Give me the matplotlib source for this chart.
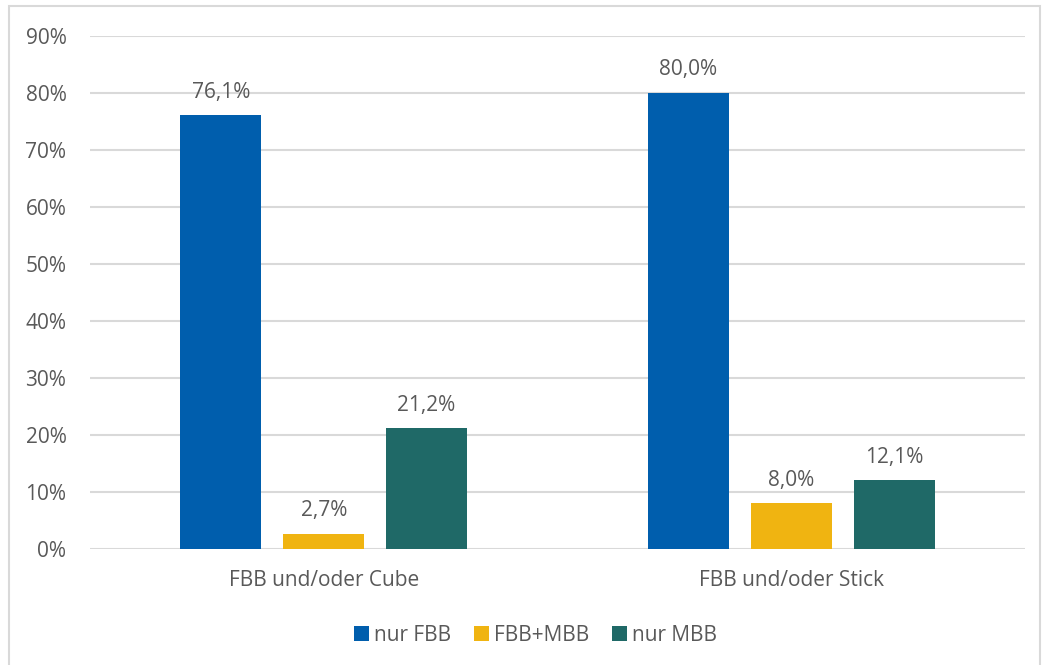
import matplotlib.pyplot as plt
import numpy as np
from matplotlib.patches import Rectangle

plt.rcParams['font.family'] = ['Open Sans', 'DejaVu Sans']

categories = ["FBB und/oder Cube", "FBB und/oder Stick"]
series = ["nur FBB", "FBB+MBB", "nur MBB"]
nur_fbb = [76.1, 80.0]
fbb_mbb = [2.7, 8.0]
nur_mbb = [21.2, 12.1]
colors = ['#005EAD', '#F0B411', '#1F6967']
text_color = '#595959'
fs = 15

fig = plt.figure(figsize=(10.42, 6.65), dpi=100)
ax = fig.add_axes([0.0864, 0.1744, 0.8973, 0.7715])

# light border round the whole chart
fig.patches.append(Rectangle((0.009, -0.01), 0.989, 1.001, transform=fig.transFigure,
                             fill=False, edgecolor='#d9d9d9', linewidth=1.5))

x = np.arange(len(categories))
width = 0.173
step = 0.22
for i, (vals, name) in enumerate(zip([nur_fbb, fbb_mbb, nur_mbb], series)):
    pos = x + (i - 1) * step
    ax.bar(pos, vals, width, color=colors[i], label=name, zorder=3)
    for p, v in zip(pos, vals):
        ax.annotate(f"{v:.1f}%".replace('.', ','), (p, v), xytext=(0, 9),
                    textcoords='offset points', ha='center', va='bottom',
                    fontsize=fs, color=text_color)

ax.set_xlim(-0.5, 1.5)
ax.set_ylim(0, 90)
ax.set_yticks(range(0, 91, 10))
ax.set_yticklabels([f"{t}%" for t in range(0, 91, 10)])
ax.set_xticks(x)
ax.set_xticklabels(categories)
ax.tick_params(axis='both', length=0, labelsize=fs, labelcolor=text_color)
ax.tick_params(axis='y', pad=17)
ax.tick_params(axis='x', pad=15)
ax.grid(axis='y', color='#d9d9d9', linewidth=1.5, zorder=0)
for s in ax.spines.values():
    s.set_visible(False)

# legend sits a little left of the plot centre
ax.legend(loc='center', bbox_to_anchor=(0.4765, -0.168), ncol=3, frameon=False,
          fontsize=fs, labelcolor=text_color, handlelength=0.7, handleheight=0.7,
          handletextpad=0.25, columnspacing=1.1)

fig.savefig('out.png', dpi=100)
